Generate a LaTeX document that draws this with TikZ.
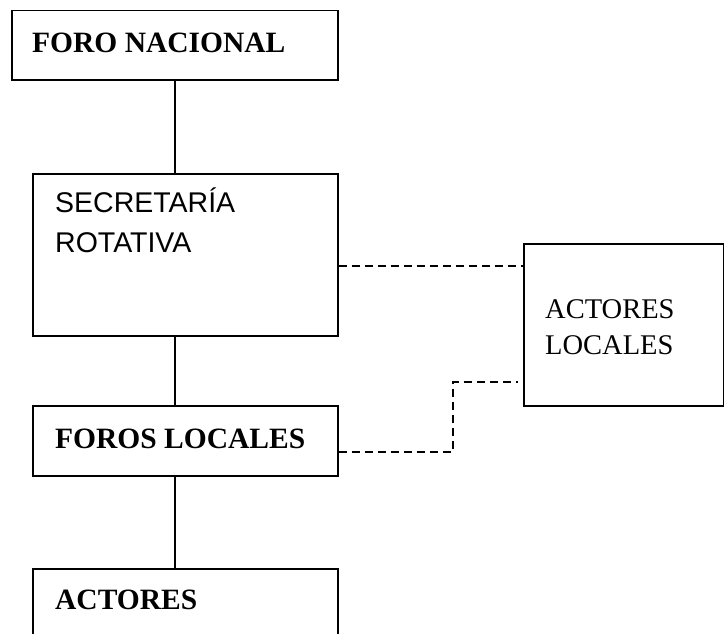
\documentclass[tikz,border=0pt]{standalone}
\usepackage{fontspec}
\setmainfont{Liberation Serif}
\newfontfamily\arialfont{Liberation Sans}

\begin{document}
\begin{tikzpicture}[x=1pt,y=-1pt,
caja/.style={draw=black, line width=1.6pt, rectangle, inner sep=0pt, anchor=north west},
rotulo/.style={anchor=base west, inner sep=0pt, align=left, font=\fontsize{29.5}{36}\selectfont},
enlace/.style={black, line width=1.6pt},
punteado/.style={enlace, dash pattern=on 8pt off 5pt}]
\clip (0,0) rectangle (724,633);
\useasboundingbox (0,0) rectangle (724,633);

% cajas
\node[caja, minimum width=326pt, minimum height=69.5pt] (foro) at (11,9.5) {};
\node[caja, minimum width=305pt, minimum height=162pt] (secre) at (32,173) {};
\node[caja, minimum width=200pt, minimum height=162pt] (actloc) at (523,243) {};
\node[caja, minimum width=305pt, minimum height=70pt] (foros) at (32,405) {};
\node[caja, minimum width=305pt, minimum height=90pt] (actores) at (32,568) {};

% textos (base = ultima linea)
\node[rotulo, font=\fontsize{29.5}{36}\selectfont\bfseries] (tforo) at (32,52.5) {FORO NACIONAL};
\node[rotulo, font=\fontsize{28.5}{40}\selectfont\arialfont] (tsecre) at (55,252) {SECRETARÍA\\ROTATIVA};
\node[rotulo, font=\fontsize{28.5}{36}\selectfont] (tactloc) at (545,354) {ACTORES\\LOCALES};
\node[rotulo, font=\fontsize{29.5}{36}\selectfont\bfseries] (tforos) at (55,448) {FOROS LOCALES};
\node[rotulo, font=\fontsize{29.5}{36}\selectfont\bfseries] (tactores) at (55,609) {ACTORES};

% lineas
\draw[enlace] (foro.south) -- (foro.south |- secre.north);
\draw[enlace] (foro.south |- secre.south) -- (foro.south |- foros.north);
\draw[enlace] (foro.south |- foros.south) -- (foro.south |- actores.north);

\coordinate (codo) at (453,382);
\draw[punteado] ([yshift=-11pt]secre.east) -- ([yshift=-11pt]secre.east -| actloc.west);
\draw[punteado] ([yshift=-11pt]foros.east) -| (codo) -- ([xshift=-5pt]codo -| actloc.west);
\end{tikzpicture}
\end{document}
